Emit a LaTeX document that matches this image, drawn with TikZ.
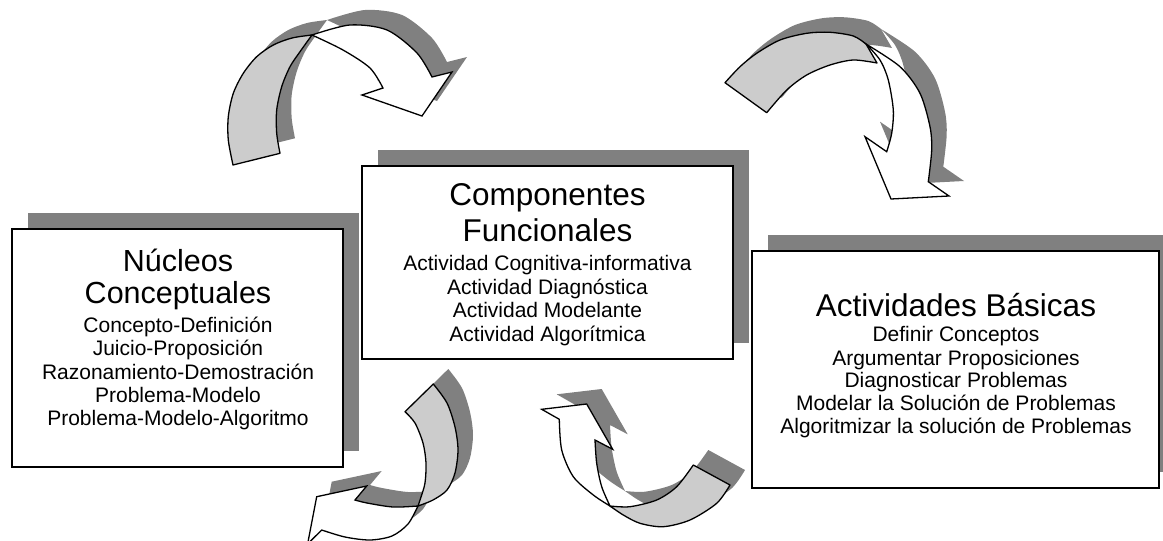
\documentclass[tikz,border=0pt]{standalone}
\usepackage{fontspec}
\setmainfont{Liberation Sans}
\definecolor{shadowgray}{HTML}{808080}
\definecolor{bandgray}{HTML}{CCCCCC}
\tikzset{
  boxshadow/.style={fill=shadowgray, draw=none, inner sep=0pt},
  conceptbox/.style={draw=black, line width=1.5pt, fill=white, inner sep=0pt},
  arrowshadow/.style={fill=shadowgray, draw=none},
  backface/.style={fill=bandgray, draw=black, line width=1.3pt, line join=round},
  frontface/.style={fill=white, draw=black, line width=1.3pt, line join=miter},
  bigtitle/.style={font=\fontsize{31.5}{36}\selectfont, anchor=base, inner sep=0pt},
  midtitle/.style={font=\fontsize{30.5}{34}\selectfont, anchor=base, inner sep=0pt},
  itemtext/.style={font=\fontsize{21}{23}\selectfont, anchor=base, inner sep=0pt},
}
% arrow A (top left)
\def\Aback{plot[smooth] coordinates {(233,165) (228.3,140) (228.3,116.7) (233.3,93.3) (243.3,73.3) (256.7,56.7) (273.3,45) (292,38) (312,35)} -- plot[smooth] coordinates {(312,35) (300,51.7) (290,66.7) (281.7,86.7) (276.7,110) (276.7,133.3) (280,153.3)} -- cycle}
\def\Afront{plot[smooth] coordinates {(312,35) (350,25) (387,30) (417,53) (432,77)} -- (452,72) -- (422,116) -- (362,95) -- (383,88) -- plot[smooth] coordinates {(383,88) (370,68) (343,50) (312,35)} -- cycle}
% arrow B (top right)
\def\Bback{plot[smooth] coordinates {(725,82.7) (740,66.7) (756.7,53.3) (780,40) (806.7,33.3) (830,32.3) (853.3,36) (866,44)} -- (877,63) -- plot[smooth] coordinates {(877,63) (853.3,60) (830,65) (806.7,75) (786.7,90) (766.7,112.7)} -- cycle}
\def\Bfront{plot[smooth] coordinates {(866,44) (900,66.7) (920,93.3) (930,126.7) (931.7,150) (928.3,181.7)} -- (949,196) -- (891,199) -- (865,136.7) -- (886.7,151.7) -- plot[smooth] coordinates {(886.7,151.7) (891.7,133.3) (893.3,110) (888.3,80) (880,60) (866,44)} -- cycle}
% arrow C (bottom left)
\def\Cback{plot[smooth] coordinates {(433.3,384) (447,403) (455,427) (458,450) (455,473) (447,490) (433,500) (418,506)} -- plot[smooth] coordinates {(418,506) (421,497) (425,483) (426,463) (423,443) (415,423) (405,411.7)} -- cycle}
\def\Cfront{plot[smooth] coordinates {(418,506) (408,524) (392,536) (370,540) (345,537) (321.7,530)} -- (307.6,544) -- (316.7,496.7) -- (366.7,486) -- (355,500) -- plot[smooth] coordinates {(355,500) (367,503) (393,507) (418,506)} -- cycle}
% arrow D (bottom middle)
\def\Dback{plot[smooth] coordinates {(730,485) (716.7,503.3) (690,520) (663.3,526.7) (640,523.3) (623.3,515) (610,506)} -- plot[smooth] coordinates {(610,506) (630,506.7) (656.7,500) (676.7,486.7) (693.3,465)} -- cycle}
\def\Dfront{plot[smooth] coordinates {(610,506) (593.3,495) (573.3,476.7) (561.7,450) (559.3,419.3)} -- (541.7,409.3) -- (586.7,404) -- (612.7,449.3) -- (595,440) -- plot[smooth] coordinates {(595,440) (596.7,463.3) (601.7,486.7) (610,506)} -- cycle}
\begin{document}
\begin{tikzpicture}[x=1pt,y=-1pt]
\useasboundingbox (0,0) rectangle (1163,541);
\begin{scope}
\clip (0,0) rectangle (1163,541);
% box shadows and boxes
\node[boxshadow, minimum width=331pt, minimum height=238pt] (nucshadow) at (193.5,332) {};
\node[conceptbox, minimum width=331pt, minimum height=238pt] (nucleos) at (177.5,348) {};
\node[boxshadow, minimum width=371pt, minimum height=193pt] (compshadow) at (563.5,246.5) {};
\node[conceptbox, minimum width=371pt, minimum height=193pt] (componentes) at (547.5,262.5) {};
\node[boxshadow, minimum width=407pt, minimum height=237pt] (actshadow) at (971.5,353.5) {};
\node[conceptbox, minimum width=407pt, minimum height=237pt] (actividades) at (955.5,369.5) {};
% arrow shadows
\begin{scope}[shift={(15,-15)}]
  \fill[arrowshadow] \Aback; \fill[arrowshadow] \Afront;
  \fill[arrowshadow] \Bback; \fill[arrowshadow] \Bfront;
  \fill[arrowshadow] \Cback; \fill[arrowshadow] \Cfront;
  \fill[arrowshadow] \Dback; \fill[arrowshadow] \Dfront;
\end{scope}
% arrows
\filldraw[backface] \Aback; \filldraw[frontface] \Afront;
\filldraw[backface] \Bback; \filldraw[frontface] \Bfront;
\filldraw[backface] \Cback; \filldraw[frontface] \Cfront;
\filldraw[backface] \Dback; \filldraw[frontface] \Dfront;
\end{scope}
% texts: Núcleos Conceptuales
\node[midtitle] (n1) at (178,271) {Núcleos};
\node[midtitle] (n2) at (178,303) {Conceptuales};
\node[itemtext] (n3) at (178,332.3) {Concepto-Definición};
\node[itemtext] (n4) at (178,355.7) {Juicio-Proposición};
\node[itemtext] (n5) at (178,379) {Razonamiento-Demostración};
\node[itemtext] (n6) at (178,402.3) {Problema-Modelo};
\node[itemtext] (n7) at (178,425.7) {Problema-Modelo-Algoritmo};
% Componentes Funcionales
\node[bigtitle] (c1) at (547.5,205) {Componentes};
\node[bigtitle] (c2) at (547.5,241.7) {Funcionales};
\node[itemtext] (c3) at (547.5,270) {Actividad Cognitiva-informativa};
\node[itemtext] (c4) at (547.5,294) {Actividad Diagnóstica};
\node[itemtext] (c5) at (547.5,317.7) {Actividad Modelante};
\node[itemtext] (c6) at (547.5,341.7) {Actividad Algorítmica};
% Actividades Básicas
\node[bigtitle] (a1) at (956,316) {Actividades Básicas};
\node[itemtext] (a2) at (956,341.7) {Definir Conceptos};
\node[itemtext] (a3) at (956,365) {Argumentar Proposiciones};
\node[itemtext] (a4) at (956,387.3) {Diagnosticar Problemas};
\node[itemtext] (a5) at (956,410) {Modelar la Solución de Problemas};
\node[itemtext] (a6) at (956,433.3) {Algoritmizar la solución de Problemas};
\end{tikzpicture}
\end{document}
